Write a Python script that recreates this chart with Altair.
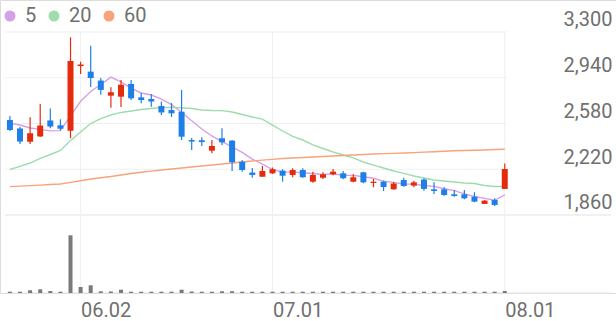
import altair as alt
import pandas as pd

# ---------------- data ----------------
IDX = list(range(50))
OPEN = [2608, 2541, 2437, 2478, 2604, 2566, 2523, 3032, 2988, 2918,
        2799, 2791, 2891, 2786, 2773, 2718, 2686, 2673, 2450, 2448,
        2366, 2464, 2445, 2279, 2194, 2161, 2188, 2209, 2175, 2214,
        2122, 2153, 2180, 2188, 2122, 2196, 2112, 2122, 2062, 2135,
        2091, 2139, 2062, 2062, 2023, 2023, 2004, 1947, 1978, 2065]
HIGH = [2639, 2555, 2629, 2733, 2698, 2613, 3258, 3066, 3192, 2938,
        2865, 2922, 2922, 2820, 2812, 2753, 2741, 2844, 2466, 2471,
        2450, 2542, 2450, 2293, 2230, 2246, 2234, 2220, 2227, 2227,
        2201, 2196, 2222, 2206, 2180, 2201, 2143, 2131, 2120, 2153,
        2130, 2149, 2117, 2078, 2057, 2057, 2039, 1978, 1991, 2265]
LOW = [2521, 2419, 2419, 2474, 2542, 2525, 2464, 2970, 2867, 2807,
       2704, 2710, 2765, 2739, 2712, 2647, 2631, 2450, 2371, 2403,
       2345, 2411, 2206, 2201, 2153, 2161, 2183, 2122, 2157, 2154,
       2114, 2143, 2172, 2141, 2117, 2109, 2078, 2049, 2059, 2083,
       2078, 2051, 2025, 2012, 2004, 1983, 1960, 1947, 1931, 2065]
CLOSE = [2529, 2438, 2503, 2564, 2556, 2539, 3072, 3044, 2938, 2844,
         2826, 2885, 2778, 2765, 2753, 2667, 2660, 2476, 2438, 2434,
         2403, 2432, 2275, 2214, 2175, 2206, 2220, 2169, 2214, 2157,
         2175, 2180, 2201, 2149, 2157, 2117, 2122, 2080, 2108, 2088,
         2117, 2065, 2049, 2017, 2010, 1991, 1965, 1973, 1939, 2222]
MA5 = [2582, 2568, 2545, 2534, 2522, 2524, 2640, 2755, 2832, 2887,
       2945, 2907, 2858, 2820, 2804, 2772, 2728, 2668, 2602, 2537,
       2482, 2437, 2396, 2352, 2300, 2260, 2218, 2197, 2197, 2193,
       2187, 2179, 2185, 2172, 2172, 2161, 2149, 2125, 2117, 2103,
       2103, 2092, 2085, 2067, 2052, 2026, 2006, 1991, 1976, 2018]
MA20 = [2218, 2242, 2269, 2305, 2336, 2368, 2446, 2513, 2580, 2619,
        2647, 2667, 2678, 2690, 2698, 2706, 2707, 2704, 2698, 2686,
        2682, 2681, 2670, 2651, 2631, 2615, 2568, 2521, 2478, 2450,
        2411, 2383, 2356, 2332, 2309, 2277, 2253, 2230, 2206, 2187,
        2167, 2151, 2135, 2128, 2120, 2112, 2108, 2092, 2084, 2084]
MA60 = [2083, 2087, 2091, 2095, 2100, 2104, 2117, 2130, 2143, 2153,
        2163, 2175, 2187, 2196, 2205, 2214, 2222, 2230, 2238, 2246,
        2253, 2261, 2269, 2277, 2285, 2292, 2298, 2305, 2309, 2312,
        2316, 2320, 2324, 2328, 2332, 2336, 2340, 2343, 2345, 2348,
        2351, 2355, 2358, 2362, 2365, 2368, 2370, 2372, 2375, 2377]
VOLUME = [26000, 26000, 54000, 74000, 40000, 26000, 1154000, 120000, 154000, 34000,
          30000, 66000, 26000, 26000, 26000, 26000, 26000, 66000, 30000, 26000,
          26000, 34000, 36000, 26000, 26000, 26000, 26000, 26000, 26000, 26000,
          26000, 26000, 26000, 26000, 26000, 26000, 26000, 26000, 26000, 26000,
          26000, 26000, 26000, 26000, 26000, 26000, 26000, 26000, 26000, 40000]
MA_NAMES = ["5", "20", "60"]
PRICE_TICKS = [1860, 2220, 2580, 2940, 3300]
DATE_TICK_POS = [7, 26, 49]
DATE_TICK_LABELS = ["06.02", "07.01", "08.01"]

# ---------------- styling / scale constants ----------------
RED = "#e52b0e"
BLUE = "#1e7fe8"
MA_COLORS = ["#d5a0ea", "#9fdcac", "#f7a37c"]
VOL_COLOR = "#7a7a7a"
TEXT = "#6f6f6f"
GRID = "#efefef"
SEP = "#e2e2e2"

X_MIN, X_MAX, GRID_END = -0.487, 59.52, 49.2
P_BOTTOM, P_TOP = 1246.2, 3551.8
V_MAX = 5860000

XS = alt.Scale(domain=[X_MIN, X_MAX], nice=False, zero=False)
YS = alt.Scale(domain=[P_BOTTOM, P_TOP], nice=False, zero=False)
VS = alt.Scale(domain=[0, V_MAX], nice=False, zero=True)

label_expr = " : ".join(f"datum.value == {p} ? '{l}'"
                        for p, l in zip(DATE_TICK_POS, DATE_TICK_LABELS)) + " : ''"
X_AXIS = alt.Axis(values=DATE_TICK_POS, labelExpr=label_expr, grid=False, domain=False,
                  ticks=False, labelAlign="left", labelBaseline="top", labelPadding=7,
                  labelFontSize=20, labelColor=TEXT, labelFont="Roboto",
                  labelFlush=False, labelOverlap=False, labelBound=False, title=None)

candles = pd.DataFrame({"i": IDX, "open": OPEN, "high": HIGH, "low": LOW,
                        "close": CLOSE, "vol": VOLUME})
ma_rows = []
for name, series in zip(MA_NAMES, [MA5, MA20, MA60]):
    for i, v in zip(IDX, series):
        ma_rows.append({"i": i, "ma": name, "v": v})
ma_df = pd.DataFrame(ma_rows)

hgrid = pd.DataFrame({"v": PRICE_TICKS[1:], "x0": X_MIN, "x1": GRID_END})
sep = pd.DataFrame({"v": [PRICE_TICKS[0], P_BOTTOM], "x0": X_MIN, "x1": X_MAX})
vgrid = pd.DataFrame({"i": DATE_TICK_POS, "top": PRICE_TICKS[-1], "bot": P_BOTTOM})

grid_layer = alt.Chart(hgrid).mark_rule(color=GRID, strokeWidth=1).encode(
    x=alt.X("x0:Q", scale=XS, axis=X_AXIS), x2="x1:Q",
    y=alt.Y("v:Q", scale=YS, axis=None))
sep_layer = alt.Chart(sep).mark_rule(color=SEP, strokeWidth=1).encode(
    x=alt.X("x0:Q", scale=XS, axis=X_AXIS), x2="x1:Q",
    y=alt.Y("v:Q", scale=YS, axis=None))
vgrid_layer = alt.Chart(vgrid).mark_rule(color=GRID, strokeWidth=1).encode(
    x=alt.X("i:Q", scale=XS, axis=X_AXIS),
    y=alt.Y("top:Q", scale=YS, axis=None), y2="bot:Q")

ma_layer = alt.Chart(ma_df).mark_line().encode(
    x=alt.X("i:Q", scale=XS, axis=X_AXIS),
    y=alt.Y("v:Q", scale=YS, axis=None),
    strokeWidth=alt.value(1.4),
    color=alt.Color("ma:N", scale=alt.Scale(domain=MA_NAMES, range=MA_COLORS),
                    sort=MA_NAMES,
                    legend=alt.Legend(orient="none", legendX=0, legendY=6,
                                      direction="horizontal", title=None,
                                      symbolType="circle", symbolSize=30,
                                      symbolStrokeWidth=5.5, labelFontSize=20,
                                      labelColor=TEXT, labelFont="Roboto",
                                      labelOffset=5, columnPadding=3,
                                      gridAlign="none", padding=0)),
    order=alt.Order("i:Q"))

candle_color = alt.condition("datum.close >= datum.open", alt.value(RED), alt.value(BLUE))

wick_layer = alt.Chart(candles).mark_rule(strokeWidth=1.2).encode(
    x=alt.X("i:Q", scale=XS, axis=X_AXIS),
    y=alt.Y("low:Q", scale=YS, axis=alt.Axis(
        orient="right", values=PRICE_TICKS, format=",d", grid=False,
        domain=False, ticks=False, labelAlign="right", labelBaseline="middle",
        labelPadding=-4, labelOffset=-12, labelFontSize=20, labelColor=TEXT,
        labelFont="Roboto", labelFlush=False, labelOverlap=False, labelBound=False,
        title=None)),
    y2="high:Q",
    color=candle_color)
body_layer = alt.Chart(candles).mark_bar(size=6).encode(
    x=alt.X("i:Q", scale=XS, axis=X_AXIS),
    y=alt.Y("open:Q", scale=YS, axis=None), y2="close:Q",
    color=candle_color)

vol_layer = alt.Chart(candles).mark_bar(size=4, color=VOL_COLOR).encode(
    x=alt.X("i:Q", scale=XS, axis=X_AXIS),
    y=alt.Y("vol:Q", scale=VS, axis=alt.Axis(
        orient="left", labels=False, ticks=False, domain=False, grid=False,
        title=None)))

chart = alt.layer(grid_layer, sep_layer, vgrid_layer, ma_layer, wick_layer,
                  body_layer, vol_layer).resolve_scale(y="independent").properties(
    width=616, height=293,
    autosize=alt.AutoSizeParams(type="none"),
    padding={"left": 0, "top": 0, "right": 0, "bottom": 28},
).configure_view(strokeWidth=0).configure(font="Roboto")

chart.save("out.html", embed_options={"renderer": "svg", "actions": False})
